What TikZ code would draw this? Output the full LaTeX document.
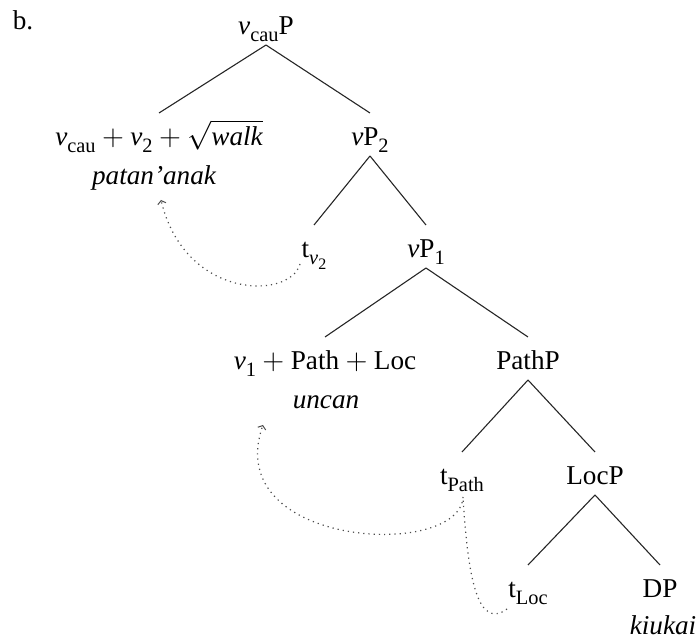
\documentclass[tikz,border=0pt]{standalone}
\usepackage{fontspec}
\setmainfont{Liberation Serif}
\usetikzlibrary{arrows.meta}
% lowered, smaller subscript set in text
\newcommand{\subs}[1]{\raisebox{-0.55ex}{\fontsize{10.2}{11}\selectfont #1}}
\newcommand{\subsubs}[1]{\raisebox{-0.45ex}{\fontsize{8}{9}\selectfont #1}}
\newcommand{\vv}{\textit{v}}
\newcommand{\pl}{${}+{}$}
\begin{document}
\begin{tikzpicture}[x=0.5pt,y=-0.5pt,
  lbl/.style={anchor=base,inner sep=0pt,font=\fontsize{13.6}{15}\selectfont},
  gloss/.style={anchor=base,inner sep=0pt,font=\fontsize{13.6}{15}\selectfont\itshape},
  branch/.style={line width=0.55pt,draw=black!85},
  movement/.style={dotted,line width=0.6pt,draw=black!70,
    -{Straight Barb[length=1.6pt,width=4.2pt,line width=0.5pt]}},
  trail/.style={dotted,line width=0.6pt,draw=black!70},
]
\useasboundingbox (0,0) rectangle (698,642);

% example letter
\node[lbl] (ex) at (23,30) {b.};

% tree labels (positions are baselines)
\node[lbl] (vcauP) at (266,35) {\vv\subs{cau}P};
\node[lbl] (head2) at (159,146) {\vv\subs{cau}\pl\vv\subs{2}\pl$\sqrt{\mbox{\itshape walk}}$};
\node[gloss] (g2) at (154,185) {patan’anak};
\node[lbl] (vP2) at (370,146) {\vv P\subs{2}};
\node[lbl] (tv2) at (314,258) {t\subs{\vv\subsubs{2}}};
\node[lbl] (vP1) at (426,258) {\vv P\subs{1}};
\node[lbl] (head1) at (325,370) {\vv\subs{1}\pl Path\pl Loc};
\node[gloss] (g1) at (326,409) {uncan};
\node[lbl] (PathP) at (528,370) {PathP};
\node[lbl] (tPath) at (462,485) {t\subs{Path}};
\node[lbl] (LocP) at (595,485) {LocP};
\node[lbl] (tLoc) at (528,598) {t\subs{Loc}};
\node[lbl] (DP) at (660,598) {DP};
\node[gloss] (gDP) at (663,635) {kiukai};

% branches: from below the mother to above the daughter
\foreach \m/\d in {vcauP/head2, vcauP/vP2, vP2/tv2, vP2/vP1, vP1/head1,
                   vP1/PathP, PathP/tPath, PathP/LocP, LocP/tLoc, LocP/DP}
  \draw[branch] ([yshift=-5pt]\m.base) -- ([yshift=16.5pt]\d.base);

% movement paths
\coordinate (tv2-out) at (300,264);
\coordinate (g2-in) at (161,200);
\draw[movement] (tv2-out) .. controls (290,300) and (185,300) .. (g2-in);

\coordinate (tPath-out) at (463,497);
\coordinate (g1-in) at (263,425);
\draw[movement] (tPath-out) .. controls (460,560) and (220,548) .. (g1-in);

\coordinate (tLoc-out) at (507,609);
\draw[trail] (tLoc-out) .. controls (478,630) and (468,580) .. (tPath-out);
\end{tikzpicture}
\end{document}
